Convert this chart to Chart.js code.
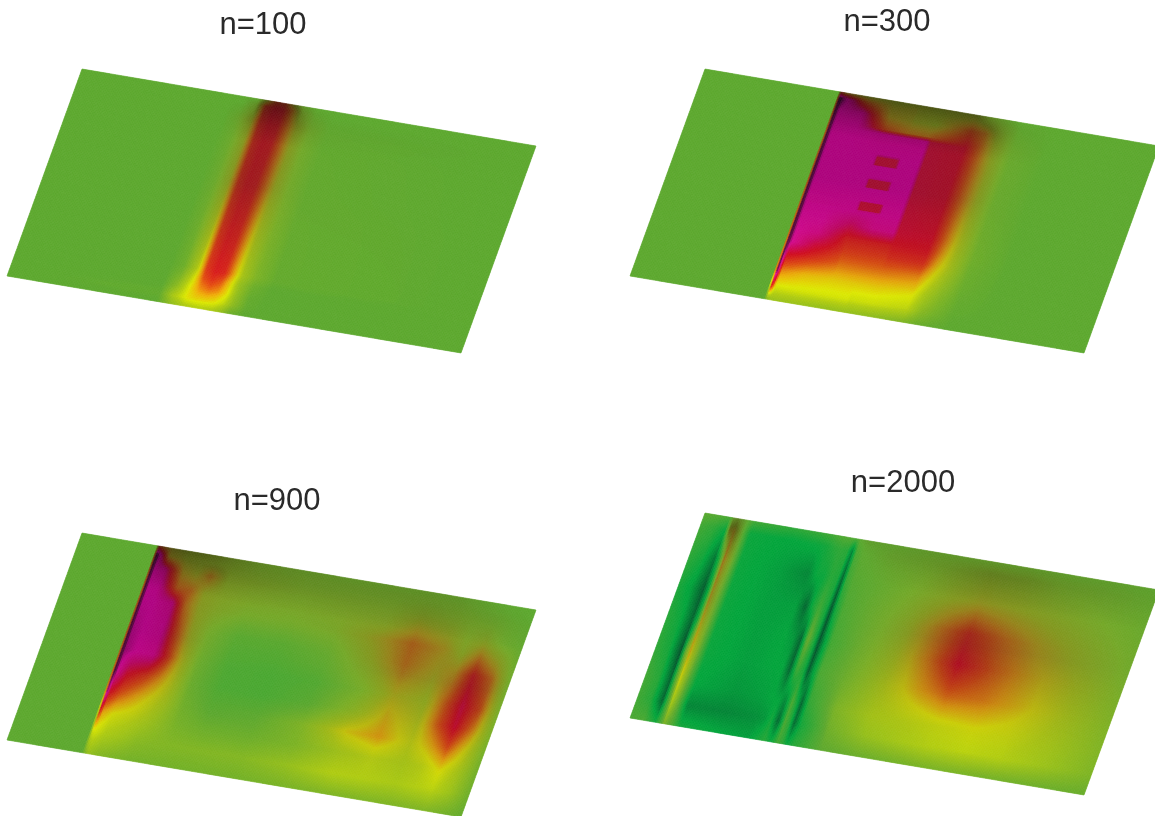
<!DOCTYPE html>
<html><head><meta charset="utf-8">
<script src="https://cdn.jsdelivr.net/npm/chart.js@4"></script>
<style>html,body{margin:0;padding:0;background:#fff;width:1155px;height:816px;overflow:hidden;position:relative}canvas{position:absolute}</style>
</head><body>
<script>
const titles = ["n=100","n=300","n=900","n=2000"];

const u100 = [0,.33,.36,.39,.41,.43,.45,.47,.49,.52,.56,1];
const v100 = [0,.03,.1,.5,.82,.86,.91,.96,1];
const z100 = [
[0,0,0,2,30,62,62,30,8,0,0,0],
[0,0,0,14,66,74,72,50,18,4,0,0],
[0,0,8,28,68,74,72,52,30,12,3,0],
[0,0,8,30,66,72,70,52,30,14,4,0],
[0,0,6,32,66,72,70,50,28,12,3,0],
[0,0,10,38,62,68,62,44,22,6,0,0],
[0,0,16,42,54,58,54,42,20,3,0,0],
[0,2,28,42,44,44,42,34,18,2,0,0],
[0,0,18,28,30,30,28,20,6,0,0,0]];

const u300 = [0,.295,.302,.31,.36,.42,.425,.47,.475,.515,.525,.60,.63,.66,.70,.78,1];
const v300 = [0,.03,.08,.14,.16,.26,.265,.305,.31,.37,.375,.415,.42,.48,.485,.525,.53,.60,.66,.72,.78,.86,.94,1];
const z300 = [
[0,0,60,40,30,30,30,30,30,30,30,30,15,8,0,0,0],
[0,0,120,110,60,35,35,35,32,30,30,35,25,15,3,0,0],
[0,0,120,100,95,40,40,35,32,30,30,60,50,25,5,0,0],
[0,0,120,98,98,62,60,50,50,50,55,72,55,30,8,0,0],
[0,0,120,98,98,95,95,95,95,95,78,76,55,30,8,0,0],
[0,0,120,98,98,98,98,98,98,98,78,76,55,32,8,0,0],
[0,0,120,98,98,98,78,78,98,98,78,76,55,32,8,0,0],
[0,0,120,98,98,98,78,78,98,98,78,76,55,32,8,0,0],
[0,0,120,98,98,98,98,98,98,98,78,76,55,32,8,0,0],
[0,0,120,98,98,98,98,98,98,98,78,76,55,32,8,0,0],
[0,0,120,98,98,98,78,78,98,98,78,76,55,32,8,0,0],
[0,0,120,98,98,98,78,78,98,98,78,76,55,32,8,0,0],
[0,0,120,98,98,98,98,98,98,98,78,76,55,32,8,0,0],
[0,0,120,98,98,98,98,98,98,98,78,76,55,32,8,0,0],
[0,0,120,98,98,98,78,78,98,98,78,76,55,32,8,0,0],
[0,0,120,98,98,98,78,78,98,98,78,76,55,32,8,0,0],
[0,0,120,99,99,98,98,98,98,98,78,76,55,32,8,0,0],
[0,0,120,99,99,85,85,95,95,95,78,76,55,32,8,0,0],
[0,0,120,100,95,72,72,72,72,72,74,74,52,30,8,0,0],
[0,0,118,100,80,68,66,66,66,66,68,68,46,28,6,0,0],
[0,0,118,76,68,60,58,58,58,58,58,55,38,22,5,0,0],
[0,0,116,55,48,45,45,45,45,45,45,42,26,14,3,0,0],
[0,0,70,38,38,38,38,38,36,36,36,32,16,8,1,0,0],
[0,0,15,22,22,20,20,20,20,18,18,12,5,2,0,0,0]];

const u900 = [0,.165,.172,.178,.20,.24,.27,.30,.34,.40,.50,.60,.70,.77,.84,.88,.92,.96,1];
const v900 = [0,.04,.1,.18,.25,.35,.5,.6,.7,.8,.9,1];
const z900 = [
[0,0,60,50,35,28,28,25,20,15,12,10,10,10,8,5,2,0,0],
[0,0,120,105,40,30,28,26,22,18,15,14,14,14,12,8,5,2,0],
[0,0,120,100,92,40,32,48,24,22,18,18,18,22,18,15,12,6,2],
[0,0,120,100,98,55,52,30,24,20,18,20,24,38,30,20,25,10,4],
[0,0,120,100,100,92,50,30,22,15,14,18,36,52,40,25,45,28,8],
[0,0,120,102,100,96,60,32,14,-2,-2,6,30,50,36,42,72,52,12],
[0,0,120,105,100,96,68,38,8,-8,-10,-6,14,36,28,56,80,60,14],
[0,0,120,100,78,66,52,34,6,-8,-10,-2,22,44,32,58,78,52,14],
[0,0,110,76,62,48,38,28,8,-2,0,14,42,50,34,46,62,38,10],
[0,0,70,50,40,34,28,20,10,6,6,12,26,32,28,32,42,28,8],
[0,0,36,36,28,22,16,14,13,13,14,20,30,30,27,30,32,22,6],
[0,0,12,20,14,10,8,8,8,8,8,10,12,12,12,12,12,8,3]];

const u2000 = [0,.03,.055,.065,.075,.09,.11,.2,.26,.28,.295,.31,.325,.335,.345,.36,.42,.5,.58,.64,.72,.8,.9,1];
const v2000 = [0,.06,.2,.35,.5,.65,.8,.9,1];
const z2000 = [
[0,-5,-10,10,15,5,-15,-25,-20,-15,-10,-5,-5,-5,0,5,5,8,8,8,8,6,5,3],
[-15,-25,-45,35,40,10,-45,-50,-45,-40,-30,-25,-30,-70,-10,0,8,12,18,22,20,14,10,5],
[-25,-40,-80,-30,45,18,-45,-55,-70,-45,-45,-30,-35,-90,-20,-5,4,16,28,34,30,24,16,8],
[-35,-55,-95,-50,40,12,-45,-55,-55,-90,-40,-15,-40,-100,-40,-10,6,24,50,68,52,38,24,12],
[-30,-45,-90,-40,40,12,-45,-55,-50,-60,-90,10,-40,-100,-60,-15,6,28,54,76,58,44,30,14],
[-25,-40,-100,0,45,12,-45,-55,-50,-50,-90,-15,-40,-95,-55,-10,8,30,48,58,54,44,30,15],
[-15,-30,-90,-10,36,5,-50,-60,-55,-50,-50,-70,-10,-40,-90,-25,12,28,32,35,38,35,26,14],
[-15,-30,-90,-20,25,0,-70,-70,-65,-60,-40,-90,-10,-30,-85,-40,6,20,26,30,32,30,22,12],
[-10,-10,-40,-15,10,-5,-40,-50,-55,-40,-30,-45,-15,-25,-45,-30,0,5,8,10,10,8,6,4]];

const cornerTL = [[82,69],[705,69],[82,533],[705,513]];
const cornerTR = [[536,146],[1159,146],[536,610],[1159,590]];
const cornerBL = [[7,276],[630,276],[7,740],[630,718]];
const canvasLeft = [-30,610,-20,610];
const canvasWidth = [586,554,594,586];
const canvasTop = [7,4,483,465];
const canvasBottom = [360,360,830,805];
const TITLE_FONT = 31, TITLE_H = 37.2;

const us = [u100,u300,u900,u2000], vs = [v100,v300,v900,v2000], zs = [z100,z300,z900,z2000];

const rearStops = [[-120,[10,42,24]],[-100,[4,85,44]],[-50,[0,165,60]],[0,[92,168,46]],[15,[116,168,40]],[30,[132,150,30]],[40,[150,130,26]],[50,[160,96,22]],[62,[160,52,20]],[75,[160,16,32]],[88,[160,4,96]],[100,[176,0,130]],[120,[26,10,20]]];
const frontStops = [[-120,[10,42,24]],[-100,[4,85,44]],[-50,[0,165,60]],[0,[92,168,46]],[15,[134,184,32]],[30,[176,204,16]],[40,[220,232,0]],[50,[240,176,8]],[62,[232,80,16]],[75,[224,10,32]],[88,[224,8,96]],[100,[232,16,152]],[120,[26,10,20]]];
const mixStops = [[.4,0],[.9,1]];
const rearDark = [[0,.55],[.12,.85],[.2,1]];

function lookup(stops,t){
  if(t<=stops[0][0])return stops[0][1];
  for(let i=1;i<stops.length;i++){
    if(t<=stops[i][0]){
      const a=stops[i-1],b=stops[i],k=(t-a[0])/(b[0]-a[0]);
      if(Array.isArray(a[1]))return a[1].map((c,j)=>c+(b[1][j]-c)*k);
      return a[1]+(b[1]-a[1])*k;
    }
  }
  return stops[stops.length-1][1];
}
function colour(val,v){
  const r=lookup(rearStops,val),f=lookup(frontStops,val),m=lookup(mixStops,v);
  const s=1+(lookup(rearDark,v)-1)*Math.min(1,Math.max(0,val)/30);
  return `rgb(${(r[0]+(f[0]-r[0])*m)*s|0},${(r[1]+(f[1]-r[1])*m)*s|0},${(r[2]+(f[2]-r[2])*m)*s|0})`;
}
function seg(a,t){let i=0;while(i<a.length-2&&t>a[i+1])i++;return [i,Math.min(1,Math.max(0,(t-a[i])/(a[i+1]-a[i])))];}
function sample(p,u,v){
  const [i,a]=seg(us[p],u),[j,b]=seg(vs[p],v),z=zs[p];
  return (z[j][i]*(1-a)+z[j][i+1]*a)*(1-b)+(z[j+1][i]*(1-a)+z[j+1][i+1]*a)*b;
}
function project(p,u,v){
  const T=cornerTL[p],R=cornerTR[p],B=cornerBL[p];
  return {x:T[0]+(R[0]-T[0])*u+(B[0]-T[0])*v,y:T[1]+(R[1]-T[1])*u+(B[1]-T[1])*v};
}
function nodes(p){
  const out=[];
  vs[p].forEach((v,j)=>us[p].forEach((u,i)=>{const q=project(p,u,v);out.push({x:q.x,y:q.y,z:zs[p][j][i]});}));
  return out;
}
const surface={
  id:'surface',
  beforeDatasetsDraw(chart){
    const p=chart.options.plugins.surface.panel,ctx=chart.ctx,X=chart.scales.x,Y=chart.scales.y;
    const NU=300,NV=120;
    const pt=(u,v)=>{const q=project(p,u,v);return [X.getPixelForValue(q.x),Y.getPixelForValue(q.y)];};
    ctx.save();ctx.lineWidth=.6;
    for(let j=0;j<NV;j++)for(let i=0;i<NU;i++){
      const u0=i/NU,u1=(i+1)/NU,v0=j/NV,v1=(j+1)/NV;
      const col=colour(sample(p,(u0+u1)/2,(v0+v1)/2),(v0+v1)/2);
      const a=pt(u0,v0),b=pt(u1,v0),c=pt(u1,v1),d=pt(u0,v1);
      ctx.fillStyle=col;ctx.strokeStyle=col;
      ctx.beginPath();ctx.moveTo(a[0],a[1]);ctx.lineTo(b[0],b[1]);ctx.lineTo(c[0],c[1]);ctx.lineTo(d[0],d[1]);ctx.closePath();
      ctx.fill();ctx.stroke();
    }
    ctx.restore();
  }
};
titles.forEach((t,p)=>{
  const cv=document.createElement('canvas');
  const w=canvasWidth[p],h=canvasBottom[p]-canvasTop[p];
  cv.width=w;cv.height=h;cv.style.cssText=`left:${canvasLeft[p]}px;top:${canvasTop[p]}px;width:${w}px;height:${h}px`;
  document.body.appendChild(cv);
  new Chart(cv,{
    type:'scatter',
    data:{datasets:[{label:t,data:nodes(p),pointRadius:0,pointHoverRadius:0,showLine:false}]},
    plugins:[surface],
    options:{
      responsive:false,animation:false,devicePixelRatio:1,
      layout:{padding:0},
      scales:{
        x:{type:'linear',display:false,min:canvasLeft[p],max:canvasLeft[p]+w},
        y:{type:'linear',display:false,reverse:true,min:canvasTop[p]+TITLE_H,max:canvasBottom[p]}
      },
      plugins:{
        legend:{display:false},tooltip:{enabled:false},
        surface:{panel:p},
        title:{display:true,text:t,color:'#2a2a2a',padding:0,font:{family:'"Liberation Sans"',size:TITLE_FONT,weight:'normal',lineHeight:1.2}}
      }
    }
  });
});
</script>
</body></html>
